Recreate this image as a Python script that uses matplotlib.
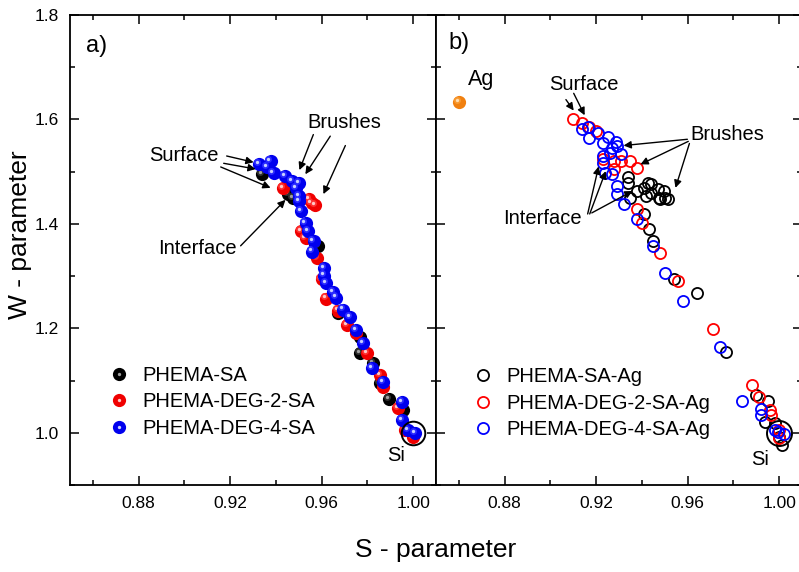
import matplotlib
matplotlib.use("Agg")
import matplotlib.pyplot as plt
import matplotlib.transforms as mtransforms
from matplotlib.lines import Line2D
from matplotlib.legend_handler import HandlerTuple

plt.rcParams["font.family"] = ["Liberation Sans", "DejaVu Sans"]

# (a) PHEMA series
sa_S = [0.934, 0.9455, 0.9475, 0.9586, 0.9570, 0.967, 0.977, 0.977, 0.9826,
        0.9856, 0.9895, 0.9956, 1.000]
sa_W = [1.495, 1.457, 1.450, 1.358, 1.362, 1.230, 1.183, 1.152, 1.133,
        1.095, 1.065, 1.044, 1.000]

deg2_S = [0.943, 0.9545, 0.9556, 0.957, 0.951, 0.953, 0.958, 0.960, 0.962,
          0.967, 0.971, 0.975, 0.980, 0.9856, 0.987, 0.9935, 0.9965, 1.000]
deg2_W = [1.469, 1.447, 1.440, 1.436, 1.387, 1.373, 1.334, 1.295, 1.257,
          1.234, 1.206, 1.191, 1.152, 1.110, 1.088, 1.048, 1.006, 0.992]

deg4_S = [0.9325, 0.9377, 0.936, 0.939, 0.944, 0.947, 0.950, 0.949, 0.950,
          0.950, 0.951, 0.953, 0.954, 0.9565, 0.956, 0.961, 0.961, 0.962,
          0.965, 0.9665, 0.9695, 0.9725, 0.975, 0.978, 0.982, 0.987, 0.995,
          0.995, 0.998, 1.001]
deg4_W = [1.514, 1.520, 1.509, 1.497, 1.491, 1.482, 1.478, 1.469, 1.453,
          1.444, 1.425, 1.402, 1.387, 1.368, 1.347, 1.316, 1.301, 1.286,
          1.269, 1.259, 1.236, 1.221, 1.196, 1.171, 1.124, 1.097, 1.059,
          1.025, 1.006, 1.000]

# (b) Ag-loaded series
ag_S, ag_W = [0.860], [1.634]

saag_S = [0.934, 0.934, 0.938, 0.9416, 0.9425, 0.944, 0.941, 0.944, 0.947,
          0.9477, 0.9495, 0.950, 0.9516, 0.948, 0.9346, 0.941, 0.943, 0.945,
          0.954, 0.964, 0.977, 0.990, 0.995, 0.9939, 0.998, 1.000, 1.0013]
saag_W = [1.490, 1.479, 1.463, 1.453, 1.479, 1.476, 1.469, 1.460, 1.467,
          1.450, 1.463, 1.450, 1.447, 1.447, 1.450, 1.419, 1.390, 1.367,
          1.295, 1.267, 1.154, 1.072, 1.061, 1.021, 1.019, 0.992, 0.977]

deg2ag_S = [0.910, 0.914, 0.917, 0.920, 0.923, 0.9277, 0.931, 0.9346, 0.938,
            0.928, 0.938, 0.940, 0.948, 0.956, 0.971, 0.988, 0.991, 0.996,
            0.9965, 1.000, 1.000]
deg2ag_W = [1.600, 1.594, 1.585, 1.577, 1.524, 1.520, 1.520, 1.520, 1.507,
            1.505, 1.428, 1.402, 1.345, 1.290, 1.198, 1.091, 1.069, 1.044,
            1.034, 1.006, 0.990]

deg4ag_S = [0.914, 0.9163, 0.917, 0.921, 0.925, 0.9285, 0.923, 0.929, 0.927,
            0.926, 0.931, 0.923, 0.923, 0.924, 0.927, 0.929, 0.929, 0.932,
            0.938, 0.945, 0.950, 0.958, 0.974, 0.984, 0.992, 0.992, 0.998,
            0.9995, 1.002]
deg4ag_W = [1.581, 1.585, 1.564, 1.574, 1.566, 1.556, 1.555, 1.549, 1.545,
            1.535, 1.533, 1.530, 1.516, 1.497, 1.495, 1.472, 1.457, 1.438,
            1.410, 1.357, 1.305, 1.253, 1.164, 1.061, 1.045, 1.034, 1.006,
            1.002, 0.998]

si_S, si_W = [1.0], [1.0]

fig = plt.figure(figsize=(7.99, 5.72), dpi=100)
ax1 = fig.add_axes([0.0876, 0.1521, 0.4580, 0.8217])
ax2 = fig.add_axes([0.5457, 0.1521, 0.4580, 0.8217])

shift = mtransforms.ScaledTranslation(-1.5 / 72, 1.5 / 72, fig.dpi_scale_trans)


def spheres(ax, x, y, base, mid, light):
    # shaded ball: dark body, lighter core, small highlight up-left
    ax.plot(x, y, "o", ms=9.5, mfc=base, mec="none", zorder=3)
    ax.plot(x, y, "o", ms=5.0, mfc=mid, mec="none", zorder=3,
            transform=ax.transData + shift)
    ax.plot(x, y, "o", ms=2.4, mfc=light, mec="none", zorder=3,
            transform=ax.transData + shift)
    return (Line2D([], [], ls="none", marker="o", ms=9.5, mfc=base, mec="none"),
            Line2D([], [], ls="none", marker="o", ms=2.4, mfc=light, mec="none"))


h1 = spheres(ax1, sa_S, sa_W, "#000000", "#303030", "#a0a0a0")
h2 = spheres(ax1, deg2_S, deg2_W, "#f00000", "#ff3030", "#ffc8c8")
h3 = spheres(ax1, deg4_S, deg4_W, "#0000ee", "#2a2aff", "#c8d0ff")
ax1.plot(si_S, si_W, "o", ms=17, mfc="none", mec="k", mew=1.4, zorder=4)

spheres(ax2, ag_S, ag_W, "#f08010", "#f89a30", "#ffdcb0")
g1, = ax2.plot(saag_S, saag_W, "o", ms=8, mfc="none", mec="k", mew=1.3)
g2, = ax2.plot(deg2ag_S, deg2ag_W, "o", ms=8, mfc="none", mec="#ff0000", mew=1.3)
g3, = ax2.plot(deg4ag_S, deg4ag_W, "o", ms=8, mfc="none", mec="#0000ff", mew=1.3)
ax2.plot(si_S, si_W, "o", ms=18, mfc="none", mec="k", mew=1.4, zorder=4)

for ax in (ax1, ax2):
    ax.set_xlim(0.85, 1.01)
    ax.set_ylim(0.9, 1.8)
    ax.set_xticks([0.88, 0.92, 0.96, 1.00])
    ax.set_xticks([0.86, 0.90, 0.94, 0.98], minor=True)
    ax.set_yticks([1.0, 1.2, 1.4, 1.6, 1.8])
    ax.set_yticks([0.9, 1.1, 1.3, 1.5, 1.7], minor=True)
    ax.set_xticklabels(["0.88", "0.92", "0.96", "1.00"])
    ax.tick_params(which="both", direction="in", top=True, right=True,
                   width=1.1, labelsize=12.5, pad=8)
    ax.tick_params(which="major", length=6.5)
    ax.tick_params(which="minor", length=3.5)
    for sp in ax.spines.values():
        sp.set_linewidth(1.3)

ax1.set_yticklabels(["1.0", "1.2", "1.4", "1.6", "1.8"])
ax2.tick_params(labelleft=False)

ax1.text(0.045, 0.935, "a)", transform=ax1.transAxes, fontsize=17, va="center")
ax2.text(0.035, 0.94, "b)", transform=ax2.transAxes, fontsize=17, va="center")

arrow = dict(arrowstyle="-|>", color="k", lw=1.0, mutation_scale=11,
             shrinkA=0, shrinkB=0)
txt = dict(fontsize=14.5, ha="center", va="center")

# annotations, panel a
ax1.text(0.8998, 1.531, "Surface", **txt)
for tail, head in [((0.9185, 1.530), (0.9303, 1.518)),
                   ((0.9172, 1.516), (0.9312, 1.505)),
                   ((0.9159, 1.509), (0.9377, 1.469))]:
    ax1.annotate("", xy=head, xytext=tail, arrowprops=arrow)
ax1.text(0.970, 1.594, "Brushes", **txt)
for tail, head in [((0.9564, 1.571), (0.9503, 1.503)),
                   ((0.9638, 1.568), (0.9529, 1.495)),
                   ((0.9704, 1.550), (0.9608, 1.457))]:
    ax1.annotate("", xy=head, xytext=tail, arrowprops=arrow)
ax1.text(0.9059, 1.352, "Interface", **txt)
ax1.annotate("", xy=(0.9442, 1.446), xytext=(0.9246, 1.358), arrowprops=arrow)
ax1.text(0.9925, 0.956, "Si", **txt)

# annotations, panel b
ax2.text(0.8697, 1.676, "Ag", fontsize=15.5, ha="center", va="center")
ax2.text(0.9146, 1.667, "Surface", **txt)
for tail, head in [((0.9068, 1.638), (0.9102, 1.617)),
                   ((0.9102, 1.650), (0.9150, 1.608))]:
    ax2.annotate("", xy=head, xytext=tail, arrowprops=arrow)
ax2.text(0.9773, 1.571, "Brushes", **txt)
for tail, head in [((0.9599, 1.562), (0.9320, 1.550)),
                   ((0.9603, 1.558), (0.9394, 1.514)),
                   ((0.9608, 1.554), (0.9547, 1.469))]:
    ax2.annotate("", xy=head, xytext=tail, arrowprops=arrow)
ax2.text(0.8967, 1.411, "Interface", **txt)
for tail, head in [((0.9163, 1.419), (0.9211, 1.510)),
                   ((0.9172, 1.419), (0.9242, 1.501)),
                   ((0.9181, 1.421), (0.9359, 1.463))]:
    ax2.annotate("", xy=head, xytext=tail, arrowprops=arrow)
ax2.text(0.9917, 0.949, "Si", **txt)

leg_kw = dict(frameon=False, fontsize=14.5, labelspacing=0.38, handlelength=1.0,
              handletextpad=0.65, borderaxespad=0, loc="upper left")
ax1.legend([h1, h2, h3], ["PHEMA-SA", "PHEMA-DEG-2-SA", "PHEMA-DEG-4-SA"],
           handler_map={tuple: HandlerTuple(ndivide=1)},
           bbox_to_anchor=(0.085, 0.271), **leg_kw)
ax2.legend([g1, g2, g3], ["PHEMA-SA-Ag", "PHEMA-DEG-2-SA-Ag", "PHEMA-DEG-4-SA-Ag"],
           bbox_to_anchor=(0.08, 0.268), **leg_kw)

fig.text(0.545, 0.038, "S - parameter", fontsize=19, ha="center", va="center")
fig.text(0.025, 0.59, "W - parameter", fontsize=19, rotation=90,
         ha="center", va="center")

fig.savefig("out.png", dpi=100)
